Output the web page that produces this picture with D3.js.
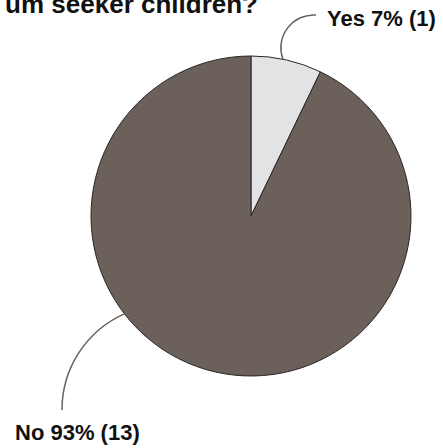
<!DOCTYPE html>
<html>
<head>
<meta charset="utf-8">
<script src="https://cdn.jsdelivr.net/npm/d3@7"></script>
<style>
  body { margin: 0; background: #fff; }
  svg { display: block; font-family: "Liberation Sans", Arial, sans-serif; }
</style>
</head>
<body>
<div id="chart"></div>
<script>
// data
var answers = ["Yes", "No"]
var counts = [1, 13]
var sliceColors = ["#e2e3e5", "#6b615a"]

var width = 443, height = 448
var cx = 251, cy = 216, radius = 160

var svg = d3.select("#chart").append("svg")
    .attr("width", width)
    .attr("height", height)

// title is cut off at the top left in the original
svg.append("text")
    .attr("x", 258)
    .attr("y", 12.5)
    .attr("text-anchor", "end")
    .style("font-size", "26px")
    .style("font-weight", "bold")
    .attr("fill", "#111")
    .text("um seeker children?")

var total = d3.sum(counts)
var rows = answers.map((a, i) => ({answer: a, count: counts[i], color: sliceColors[i]}))

var pie = d3.pie().sort(null).value(d => d.count)
var arc = d3.arc().innerRadius(0).outerRadius(radius)

var g = svg.append("g").attr("transform", "translate(" + cx + "," + cy + ")")

g.selectAll(".slice")
    .data(pie(rows))
    .enter()
    .append("path")
    .attr("class", "slice")
    .attr("d", arc)
    .attr("fill", d => d.data.color)
    .attr("stroke", "#2b2624")
    .attr("stroke-width", 1)

// leader lines: start angle on the rim, label anchor, arc radius, sweep
var leaders = [
    {angle: 11.5, end: [316, 15], r: 33, sweep: 1, text: [327, 26], anchor: "start"},
    {angle: 232.3, end: [62, 410], r: 105, sweep: 0, text: [15, 440], anchor: "start"}
]

function rimPoint(deg){
    var a = deg * Math.PI / 180
    return [cx + radius * Math.sin(a), cy - radius * Math.cos(a)]
}

leaders.forEach((l, i) => {
    var p = rimPoint(l.angle)
    svg.append("path")
        .attr("d", "M" + p[0] + "," + p[1] + " A" + l.r + "," + l.r + " 0 0 " + l.sweep + " " + l.end[0] + "," + l.end[1])
        .attr("fill", "none")
        .attr("stroke", "#6b615a")
        .attr("stroke-width", 1.5)

    var d = rows[i]
    svg.append("text")
        .attr("x", l.text[0])
        .attr("y", l.text[1])
        .attr("text-anchor", l.anchor)
        .style("font-size", "22px")
        .style("font-weight", "bold")
        .attr("fill", "#111")
        .text(d.answer + " " + Math.round(d.count / total * 100) + "% (" + d.count + ")")
})
</script>
</body>
</html>
